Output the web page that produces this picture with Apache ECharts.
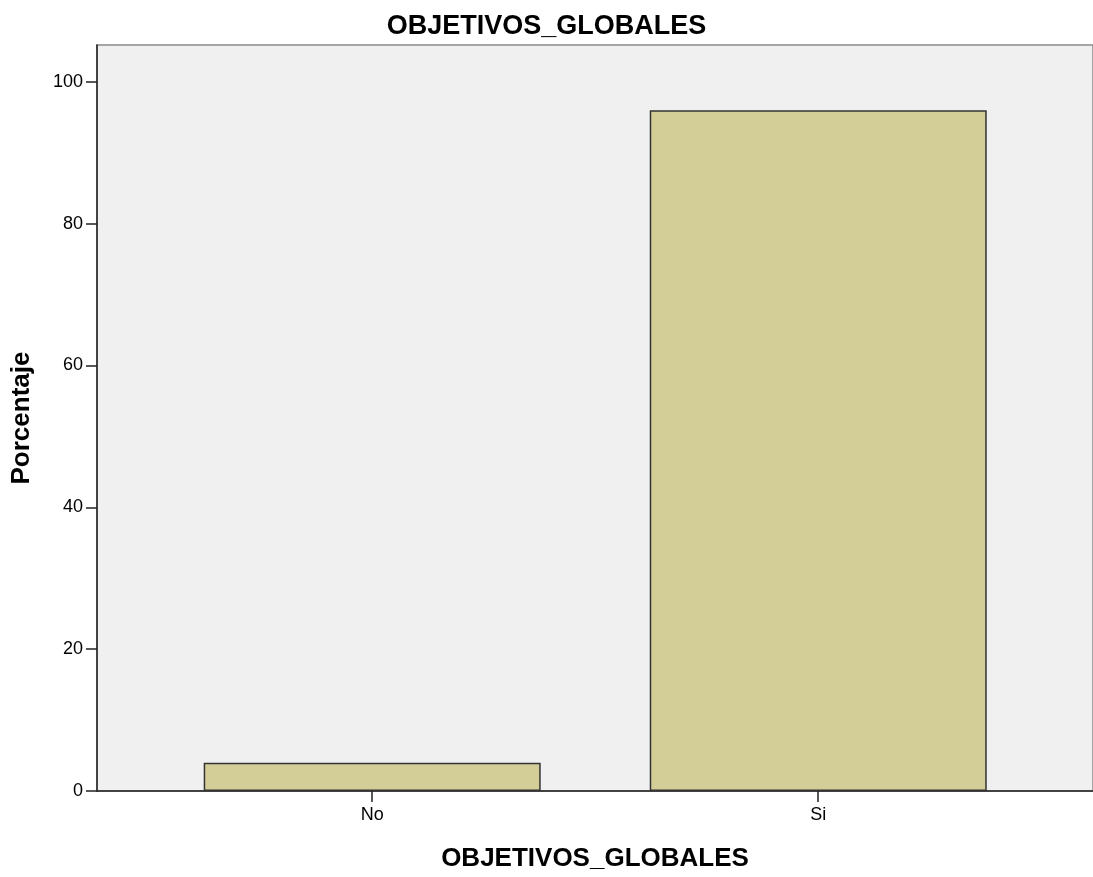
<!DOCTYPE html>
<html>
<head>
<meta charset="utf-8">
<script src="https://cdn.jsdelivr.net/npm/echarts@6/dist/echarts.min.js"></script>
<style>html,body{margin:0;padding:0;background:#fff;}#c{width:1093px;height:877px;}</style>
</head>
<body>
<div id="c"></div>
<script>
const chartTitle = "OBJETIVOS_GLOBALES";
const xName = "OBJETIVOS_GLOBALES";
const yName = "Porcentaje";
const categories = ["No", "Si"];
const values = [4, 96];
const yTicks = [0, 20, 40, 60, 80, 100];

const chart = echarts.init(document.getElementById('c'));
const font = "'Liberation Sans', Arial, sans-serif";
chart.setOption({
  animation: false,
  backgroundColor: '#ffffff',
  title: {
    text: chartTitle,
    left: 'center',
    top: 8,
    textStyle: { fontFamily: font, fontWeight: 'bold', fontSize: 27, color: '#000' }
  },
  grid: {
    left: 97, top: 45, width: 1000, bottom: 86,
    show: true, backgroundColor: '#f0f0f0', borderColor: '#8a8a8a', borderWidth: 1.5
  },
  xAxis: {
    type: 'value',
    min: -0.617, max: 1.616,
    splitLine: { show: false },
    axisLine: { show: true, onZero: false, lineStyle: { color: '#222', width: 1.5 } },
    axisTick: { show: true, length: 11, customValues: [0, 1], lineStyle: { color: '#222', width: 1.5 } },
    axisLabel: {
      customValues: [0, 1],
      formatter: v => categories[Math.round(v)],
      fontFamily: font, fontSize: 18, color: '#000', margin: 15
    },
    name: xName,
    nameLocation: 'middle',
    nameGap: 55,
    nameTextStyle: { fontFamily: font, fontWeight: 'bold', fontSize: 26, color: '#000' }
  },
  yAxis: {
    type: 'value',
    min: 0, max: 105.2,
    splitLine: { show: false },
    axisLine: { show: true, onZero: false, lineStyle: { color: '#222', width: 1.5 } },
    axisTick: { show: true, length: 11, customValues: yTicks, lineStyle: { color: '#222', width: 1.5 } },
    axisLabel: { customValues: yTicks, fontFamily: font, fontSize: 18, color: '#000', margin: 14 },
    name: yName,
    nameLocation: 'middle',
    nameGap: 62,
    nameTextStyle: { fontFamily: font, fontWeight: 'bold', fontSize: 26, color: '#000' }
  },
  series: [{
    type: 'bar',
    barWidth: 337,
    data: values.map((v, i) => [i, v]),
    itemStyle: { color: '#d3ce97', borderColor: '#333', borderWidth: 1.5 }
  }]
});
</script>
</body>
</html>
